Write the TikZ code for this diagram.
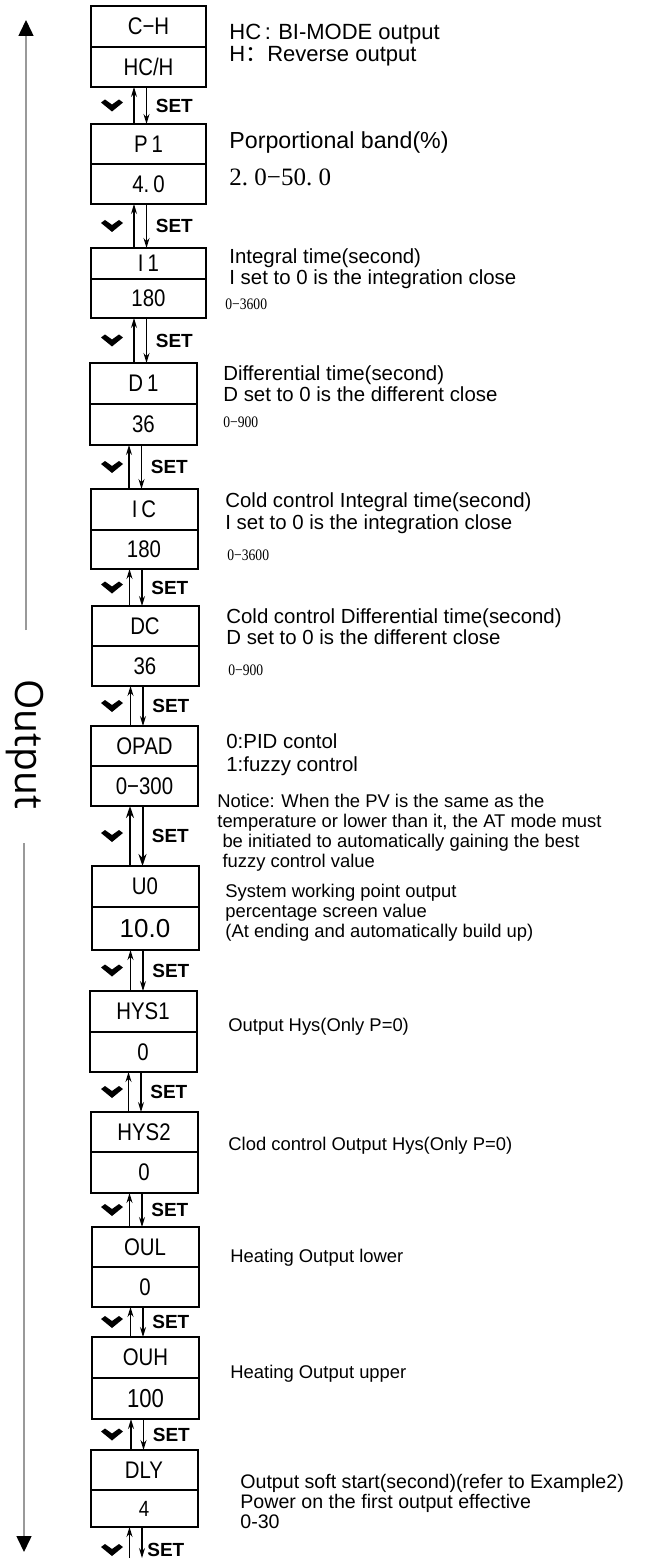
\documentclass[tikz,border=0pt]{standalone}
\usepackage{fontspec}
\setmainfont{Liberation Sans}
\newfontfamily\segfont[FakeStretch=0.85]{Liberation Sans}
\newfontfamily\rangefont[FakeStretch=0.85]{Liberation Serif}
\newfontfamily\bandfont{Liberation Serif}
\newfontfamily\sidefont{Open Sans}
\newfontfamily\cjk{Noto Sans CJK SC}
\usetikzlibrary{positioning,calc,arrows.meta}

\begin{document}
\begin{tikzpicture}
        [%%%%%%%%%%%%%%%%%%%%%%%%%%%%%%
        x=0.5pt,y=-0.5pt,
        cell/.style={rectangle,draw=black,line width=1pt,minimum width=53.5pt,minimum height=20pt,
          inner sep=0pt,outer sep=0pt,font=\segfont\fontsize{12}{12}\selectfont},
        wide/.style={minimum width=57.5pt},
        note/.style={anchor=base west,align=left,inner sep=0pt,font=\fontsize{10.2}{10.5}\selectfont},
        smallnote/.style={note,font=\fontsize{9.2}{10}\selectfont},
        rangetxt/.style={anchor=base west,inner sep=0pt,font=\rangefont\fontsize{8}{8}\selectfont},
        setlbl/.style={anchor=west,inner sep=0pt,font=\bfseries\fontsize{9.5}{9.5}\selectfont},
        keyarrow/.style={-{Stealth[length=5pt,width=3pt]},line width=0.6pt},
        keybold/.style={-{Stealth[length=6pt,width=4pt]},line width=1pt},
        chevron/.style={fill=black,draw=none},
        sideline/.style={draw=black!40,line width=0.75pt,-{Triangle[length=8pt,width=7.5pt,color=black]}},
        ]%%%%%%%%%%%%%%%%%%%%%%%%%%%%%%
        \useasboundingbox (0,0) rectangle (645,1561);

        % menu boxes
        \node[cell,wide,minimum height=20.5pt] (ch) at (148.5,26.5) {C−H};
        \node[cell,wide,below=0pt of ch] (hch) {HC/H};
        \node[cell,wide] (pone) at (148.5,144) {P\,1};
        \node[cell,wide,below=0pt of pone] (pval) {4.\,0};
        \node[cell,wide,minimum height=15.5pt] (ione) at (148.5,263.5) {I\,1};
        \node[cell,wide,minimum height=19.5pt,below=0pt of ione] (ival) {180};
        \node[cell,minimum height=20.5pt] (done) at (143.5,383.5) {D\,1};
        \node[cell,minimum height=20.5pt,below=0pt of done] (dval) {36};
        \node[cell,minimum height=20.5pt] (ic) at (144,509.5) {I\,C};
        \node[cell,minimum height=19.5pt,below=0pt of ic] (icval) {180};
        \node[cell] (dc) at (145,626) {DC};
        \node[cell,below=0pt of dc] (dcval) {36};
        \node[cell] (opad) at (144.5,746) {OPAD};
        \node[cell,below=0pt of opad] (opval) {0−300};
        \node[cell,minimum height=20.5pt] (uo) at (145,886.5) {U0};
        \node[cell,minimum height=21.5pt,below=0pt of uo,font=\fontsize{13}{13}\selectfont] (uoval) {10.0};
        \node[cell,minimum height=20.5pt] (hysa) at (143,1011.5) {HYS1};
        \node[cell,below=0pt of hysa] (hysaval) {0};
        \node[cell] (hysb) at (144,1132) {HYS2};
        \node[cell,minimum height=20.5pt,below=0pt of hysb] (hysbval) {0};
        \node[cell] (oul) at (145,1247) {OUL};
        \node[cell,below=0pt of oul] (oulval) {0};
        \node[cell,minimum height=20.5pt] (ouh) at (145.5,1357.5) {OUH};
        \node[cell,minimum height=20.5pt,below=0pt of ouh,font=\segfont\fontsize{13}{13}\selectfont] (ouhval) {100};
        \node[cell] (dly) at (144,1470) {DLY};
        \node[cell,minimum height=18.5pt,below=0pt of dly,font=\segfont\fontsize{11}{11}\selectfont] (dlyval) {4};

        % up / down keys between the boxes
        \coordinate (chevcol) at (112,0);
        \foreach \a/\b/\st [count=\i] in {hch/pone/keyarrow,pval/ione/keyarrow,ival/done/keyarrow,
          dval/ic/keyarrow,icval/dc/keyarrow,dcval/opad/keyarrow,opval/uo/keybold,uoval/hysa/keyarrow,
          hysaval/hysb/keyarrow,hysbval/oul/keyarrow,oulval/ouh/keyarrow,ouhval/dly/keyarrow}{
          \coordinate (mid) at ($(\a.south)!0.5!(\b.north)$);
          \coordinate (ua) at ([xshift=-7.25pt]\a.south);
          \coordinate (ub) at (ua |- \b.north);
          \coordinate (da) at ([xshift=-1pt]\a.south);
          \coordinate (db) at (da |- \b.north);
          \coordinate (sa) at ([xshift=4.5pt]da);
          \draw[\st] (ub) -- (ua);
          \draw[\st] (da) -- (db);
          \fill[chevron] (chevcol |- mid) ++(-11,-3) -- ++(4,-3) -- ++(7,5) -- ++(7,-5)
            -- ++(4,3) -- ++(-11,9) -- cycle;
          \node[setlbl] (set\i) at (sa |- mid) {SET};
        }
        \coordinate (tailend) at (0,1558);
        \coordinate (tailmid) at (0,1550);
        \coordinate (ua) at ([xshift=-7.25pt]dlyval.south);
        \coordinate (da) at ([xshift=-1pt]dlyval.south);
        \coordinate (sa) at ([xshift=2.5pt]da);
        \draw[keyarrow] (ua |- tailend) -- (ua);
        \draw[keyarrow] (da) -- (da |- tailend);
        \fill[chevron] (chevcol |- tailmid) ++(-11,-3) -- ++(4,-3) -- ++(7,5) -- ++(7,-5)
          -- ++(4,3) -- ++(-11,9) -- cycle;
        \node[setlbl] (settail) at (sa |- tailmid) {SET};

        % descriptions (each placed at the baseline of its last line)
        \node[note,font=\fontsize{11}{11}\selectfont] (hcnote) at (229,62) {HC\,:\,\,BI-MODE output\\H{\cjk ：}Reverse output};
        \node[note,font=\fontsize{11.6}{11}\selectfont] (pnote) at (229,149) {Porportional band(\%)};
        \node[rangetxt,font=\bandfont\fontsize{12.5}{12.5}\selectfont] (prange) at (229,186) {2.\ 0−50.\ 0};
        \node[note] (inote) at (229,285) {Integral time(second)\\I set to 0 is the integration close};
        \node[rangetxt] (irange) at (225,310) {0−3600};
        \node[note] (dnote) at (223,402) {Differential time(second)\\D set to 0 is the different close};
        \node[rangetxt] (drange) at (223,428) {0−900};
        \node[note,font=\fontsize{10.2}{11}\selectfont] (icnote) at (225,529) {Cold control Integral time(second)\\I set to 0 is the integration close};
        \node[rangetxt] (icrange) at (227,560) {0−3600};
        \node[note] (dcnote) at (226,644) {Cold control Differential time(second)\\D set to 0 is the different close};
        \node[rangetxt] (dcrange) at (228,675) {0−900};
        \node[note,font=\fontsize{10.2}{11.5}\selectfont] (opnote) at (226,771) {0:PID contol\\1:fuzzy control};
        \node[smallnote] (notice) at (217,867) {Notice: When the PV is the same as the\\temperature or lower than it, the AT mode must\\\ be initiated to automatically gaining the best\\\ fuzzy control value};
        \node[smallnote] (uonote) at (225,937) {System working point output\\percentage screen value\\(At ending and automatically build up)};
        \node[smallnote] (hysanote) at (228,1031) {Output Hys(Only P=0)};
        \node[smallnote] (hysbnote) at (228,1150) {Clod control Output Hys(Only P=0)};
        \node[smallnote] (oulnote) at (230,1262) {Heating Output lower};
        \node[smallnote] (ouhnote) at (230,1378) {Heating Output upper};
        \node[smallnote,font=\fontsize{9.8}{10}\selectfont] (dlynote) at (240,1528) {Output soft start(second)(refer to Example2)\\Power on the first output effective\\0-30};

        % side axis
        \node[rotate=-90,inner sep=0pt,font=\sidefont\fontsize{19.5}{19.5}\selectfont] (outlbl) at (25,744) {Output};
        \coordinate (axtop) at (26,20);
        \coordinate (axup) at (26,630);
        \coordinate (axdown) at (24,843);
        \coordinate (axbot) at (24,1552);
        \draw[sideline] (axup) -- (axtop);
        \draw[sideline] (axdown) -- (axbot);
      \end{tikzpicture}
\end{document}
